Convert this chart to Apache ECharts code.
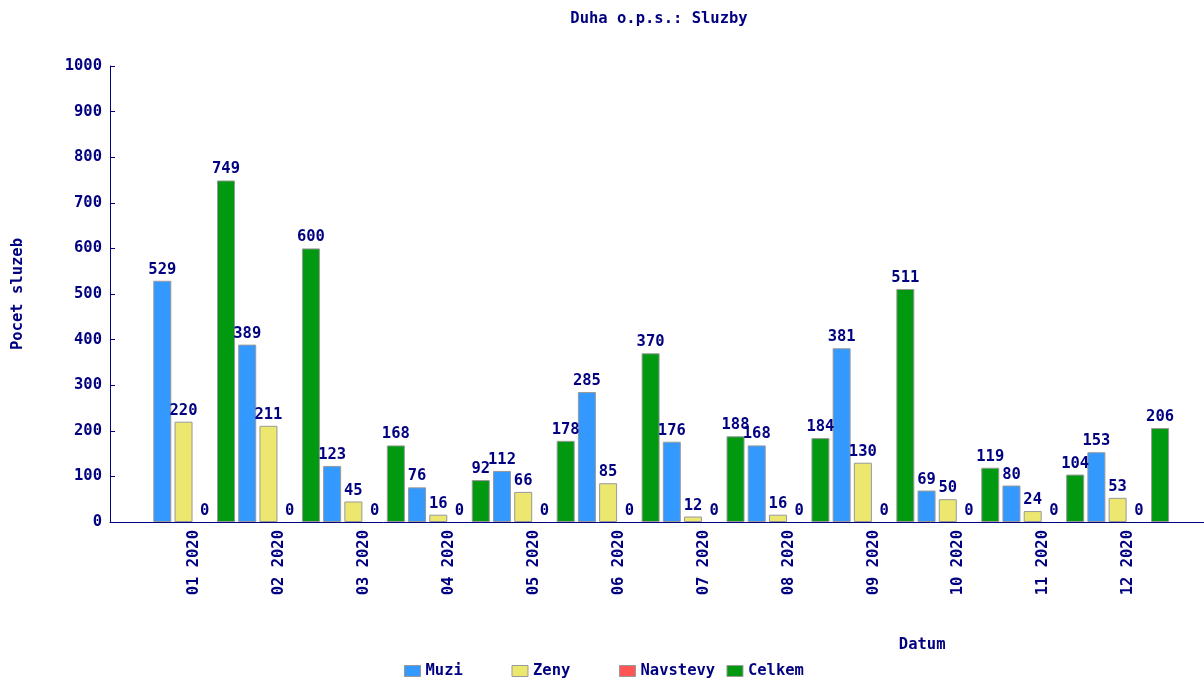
<!DOCTYPE html>
<html>
<head>
<meta charset="utf-8">
<script src="https://cdn.jsdelivr.net/npm/echarts@6/dist/echarts.min.js"></script>
<style>html,body{margin:0;padding:0;background:#fff}#c{width:1204px;height:682px}</style>
</head>
<body>
<div id="c"></div>
<script>
const categories = ['01 2020','02 2020','03 2020','04 2020','05 2020','06 2020','07 2020','08 2020','09 2020','10 2020','11 2020','12 2020'];
const muzi = [529, 389, 123, 76, 112, 285, 176, 168, 381, 69, 80, 153];
const zeny = [220, 211, 45, 16, 66, 85, 12, 16, 130, 50, 24, 53];
const navstevy = [0, 0, 0, 0, 0, 0, 0, 0, 0, 0, 0, 0];
const celkem = [749, 600, 168, 92, 178, 370, 188, 184, 511, 119, 104, 206];

const NAVY = '#000080';
const FONT = 'DejaVu Sans Mono';
const txt = {color: NAVY, fontFamily: FONT, fontWeight: 'bold', fontSize: 15.5};

function bar(name, data, color, border) {
  return {
    name, type: 'bar', data, xAxisIndex: 0, yAxisIndex: 0,
    barWidth: 18, barGap: '18%',
    itemStyle: {color, borderColor: '#999999', borderWidth: border},
    label: {show: true, position: 'top', distance: 3, ...txt},
    emphasis: {disabled: true}
  };
}

const chart = echarts.init(document.getElementById('c'));
chart.setOption({
  animation: false,
  title: {text: 'Duha o.p.s.: Sluzby', left: 654, textAlign: 'center', top: 6,
    textStyle: {...txt}},
  legend: {
    left: 404, top: 663, padding: 0, itemWidth: 16, itemHeight: 11, itemGap: 2,
    icon: 'rect',
    textStyle: {...txt},
    formatter: n => n.padEnd(9, ' '),
    itemStyle: {borderColor: '#999999', borderWidth: 1},
    data: ['Muzi', 'Zeny', 'Navstevy', 'Celkem']
  },
  grid: [
    {left: 151.7, right: 33.3, top: 66, bottom: 160},
    {left: 110, right: 0, top: 66, bottom: 160}
  ],
  xAxis: [
    {type: 'category', gridIndex: 0, data: categories,
      axisLine: {show: false}, axisTick: {show: false},
      axisLabel: {rotate: 90, margin: 8, ...txt},
      name: 'Datum', nameLocation: 'middle', nameGap: 115,
      nameTextStyle: {...txt, padding: [0, 0, 0, 522]}},
    {type: 'value', gridIndex: 1, min: 0, max: 1,
      axisLine: {show: true, lineStyle: {color: NAVY, width: 1}},
      axisTick: {show: false}, axisLabel: {show: false}, splitLine: {show: false}}
  ],
  yAxis: [
    {type: 'value', gridIndex: 0, min: 0, max: 1000, interval: 100, offset: 41.7,
      axisLine: {show: true, lineStyle: {color: NAVY, width: 1}},
      axisTick: {show: true, inside: true, length: 5, lineStyle: {color: NAVY}},
      axisLabel: {margin: 8, ...txt, formatter: v => String(v)},
      splitLine: {show: false},
      name: 'Pocet sluzeb', nameLocation: 'middle', nameRotate: 90, nameGap: 84,
      nameTextStyle: {...txt}},
    {type: 'value', gridIndex: 1, show: false, min: 0, max: 1}
  ],
  series: [
    bar('Muzi', muzi, '#3399ff', 1),
    bar('Zeny', zeny, '#ece86f', 1),
    bar('Navstevy', navstevy, '#ff5555', 0),
    bar('Celkem', celkem, '#009910', 1)
  ]
});
</script>
</body>
</html>
